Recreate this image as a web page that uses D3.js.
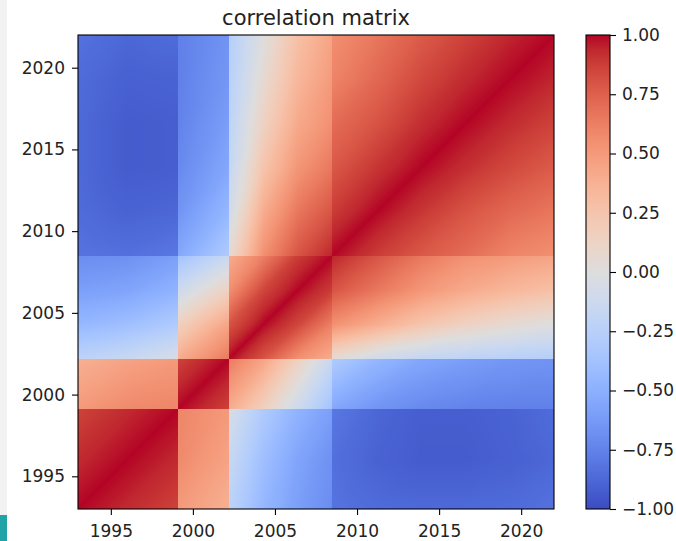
<!DOCTYPE html>
<html>
<head>
<meta charset="utf-8">
<script src="https://cdn.jsdelivr.net/npm/d3@7"></script>
<style>
  html, body { margin: 0; padding: 0; background: #ffffff; }
  svg { display: block; font-family: "DejaVu Sans", sans-serif; }
</style>
</head>
<body>
<svg id="chart" width="676" height="541"></svg>
<script>
// ---- data -------------------------------------------------------------
const chartTitle = "correlation matrix";
const yearExtent = [1993, 2022];
const regimeBreaks = [1999.1, 2002.2, 2008.5];

// sample years inside each regime (regime edges repeated on both sides)
const regimeNodes = [
  [1993, 1996, 1999.1],
  [1999.1, 2002.2],
  [2002.2, 2004.3, 2006.4, 2008.5],
  [2008.5, 2011.2, 2013.9, 2016.6, 2019.3, 2022]
];

// correlation at every pair of sample years (same order as regimeNodes, flattened)
const corr = [
  [ 1.00,  0.93,  0.86,  0.50,  0.38, -0.22, -0.45, -0.60, -0.70, -0.82, -0.86, -0.87, -0.87, -0.86, -0.83],
  [ 0.93,  1.00,  0.93,  0.58,  0.45, -0.15, -0.40, -0.57, -0.68, -0.84, -0.90, -0.93, -0.93, -0.91, -0.88],
  [ 0.86,  0.93,  1.00,  0.60,  0.50, -0.05, -0.30, -0.48, -0.60, -0.80, -0.88, -0.92, -0.92, -0.90, -0.86],
  [ 0.50,  0.58,  0.60,  1.00,  0.86,  0.40,  0.15, -0.12, -0.38, -0.55, -0.66, -0.72, -0.75, -0.76, -0.76],
  [ 0.38,  0.45,  0.50,  0.86,  1.00,  0.65,  0.45,  0.15, -0.15, -0.30, -0.45, -0.55, -0.60, -0.64, -0.66],
  [-0.22, -0.15, -0.05,  0.40,  0.65,  1.00,  0.80,  0.55,  0.40,  0.05, -0.10, -0.18, -0.22, -0.25, -0.27],
  [-0.45, -0.40, -0.30,  0.15,  0.45,  0.80,  1.00,  0.85,  0.62,  0.55,  0.40,  0.25,  0.14,  0.06,  0.00],
  [-0.60, -0.57, -0.48, -0.12,  0.15,  0.55,  0.85,  1.00,  0.88,  0.80,  0.66,  0.52,  0.42,  0.34,  0.28],
  [-0.70, -0.68, -0.60, -0.38, -0.15,  0.40,  0.62,  0.88,  1.00,  0.95,  0.80,  0.66,  0.55,  0.50,  0.45],
  [-0.82, -0.84, -0.80, -0.55, -0.30,  0.05,  0.55,  0.80,  0.95,  1.00,  0.88,  0.78,  0.70,  0.60,  0.55],
  [-0.86, -0.90, -0.88, -0.66, -0.45, -0.10,  0.40,  0.66,  0.80,  0.88,  1.00,  0.90,  0.80,  0.72,  0.66],
  [-0.87, -0.93, -0.92, -0.72, -0.55, -0.18,  0.25,  0.52,  0.66,  0.78,  0.90,  1.00,  0.92,  0.84,  0.77],
  [-0.87, -0.93, -0.92, -0.75, -0.60, -0.22,  0.14,  0.42,  0.55,  0.70,  0.80,  0.92,  1.00,  0.93,  0.86],
  [-0.86, -0.91, -0.90, -0.76, -0.64, -0.25,  0.06,  0.34,  0.50,  0.60,  0.72,  0.84,  0.93,  1.00,  0.94],
  [-0.83, -0.88, -0.86, -0.76, -0.66, -0.27,  0.00,  0.28,  0.45,  0.55,  0.66,  0.77,  0.86,  0.94,  1.00]
];

const yearTicks = [1995, 2000, 2005, 2010, 2015, 2020];
const colorTicks = [-1, -0.75, -0.5, -0.25, 0, 0.25, 0.5, 0.75, 1];

// coolwarm diverging palette, 33 evenly spaced stops from -1 to 1
const coolwarm = [
  "#3b4cc0", "#445acc", "#4d68d7", "#5775e1", "#6282ea", "#6c8ff1", "#779af7", "#82a5fb",
  "#8db0fe", "#98b9ff", "#a3c2fe", "#aec9fd", "#b8d0f9", "#c2d5f4", "#ccd9ee", "#d5dbe6",
  "#dddddd", "#e5d8d1", "#ecd3c5", "#f1ccb9", "#f5c4ad", "#f7bba0", "#f7b194", "#f6a687",
  "#f49a7b", "#f18d6f", "#ec7f63", "#e57058", "#de604d", "#d55042", "#cb3e38", "#c0282f",
  "#b40426"
];

// ---- layout -----------------------------------------------------------
const plot = { left: 78, top: 35, width: 476, height: 474 };
const cbar = { left: 586, top: 35, width: 24, height: 474 };
const tickFont = 17;

const svg = d3.select("#chart");

const x = d3.scaleLinear().domain(yearExtent).range([plot.left, plot.left + plot.width]);
const y = d3.scaleLinear().domain(yearExtent).range([plot.top + plot.height, plot.top]);
const color = d3.scaleLinear()
  .domain(coolwarm.map((_, i) => -1 + 2 * i / (coolwarm.length - 1)))
  .range(coolwarm)
  .interpolate(d3.interpolateRgb)
  .clamp(true);

// window chrome at the left edge
svg.append("rect").attr("x", 0).attr("y", 0).attr("width", 7).attr("height", 541).attr("fill", "#f2f2f2");
svg.append("rect").attr("x", 0).attr("y", 515).attr("width", 7).attr("height", 26).attr("fill", "#20a3a6");

// ---- heatmap ----------------------------------------------------------
const nodeOffset = [];
regimeNodes.reduce((acc, n) => { nodeOffset.push(acc); return acc + n.length; }, 0);

function locate(v) {
  const s = Math.min(d3.bisectRight(regimeBreaks, v), regimeNodes.length - 1);
  const nodes = regimeNodes[s];
  let k = d3.bisectRight(nodes, v) - 1;
  k = Math.max(0, Math.min(nodes.length - 2, k));
  const f = Math.max(0, Math.min(1, (v - nodes[k]) / (nodes[k + 1] - nodes[k])));
  return [nodeOffset[s] + k, f];
}

// linear shading over triangles split along the main diagonal direction
function corrAt(u, v) {
  const [i, s] = locate(u);
  const [j, t] = locate(v);
  const f00 = corr[i][j], f11 = corr[i + 1][j + 1];
  if (s >= t) return (1 - s) * f00 + (s - t) * corr[i + 1][j] + t * f11;
  return (1 - t) * f00 + (t - s) * corr[i][j + 1] + s * f11;
}

const lutSize = 1024;
const lut = d3.range(lutSize).map(k => d3.rgb(color(-1 + 2 * k / (lutSize - 1))));

const canvas = document.createElement("canvas");
canvas.width = plot.width;
canvas.height = plot.height;
const ctx = canvas.getContext("2d");
const img = ctx.createImageData(plot.width, plot.height);
for (let py = 0; py < plot.height; py++) {
  const v = y.invert(plot.top + py + 0.5);
  for (let px = 0; px < plot.width; px++) {
    const u = x.invert(plot.left + px + 0.5);
    const val = corrAt(u, v);
    const k = Math.round((Math.max(-1, Math.min(1, val)) + 1) / 2 * (lutSize - 1));
    const c = lut[k];
    const o = (py * plot.width + px) * 4;
    img.data[o] = c.r; img.data[o + 1] = c.g; img.data[o + 2] = c.b; img.data[o + 3] = 255;
  }
}
ctx.putImageData(img, 0, 0);

svg.append("image")
  .attr("x", plot.left).attr("y", plot.top)
  .attr("width", plot.width).attr("height", plot.height)
  .attr("preserveAspectRatio", "none")
  .attr("href", canvas.toDataURL());

svg.append("rect")
  .attr("x", plot.left).attr("y", plot.top)
  .attr("width", plot.width).attr("height", plot.height)
  .attr("fill", "none").attr("stroke", "#000").attr("stroke-width", 1.1);

// ---- axes -------------------------------------------------------------
function styleAxis(g) {
  g.select(".domain").remove();
  g.selectAll(".tick line").attr("stroke", "#000").attr("stroke-width", 1.1);
  g.selectAll(".tick text").attr("fill", "#222").style("font-size", tickFont + "px")
    .style("font-family", "'DejaVu Sans', sans-serif");
}

svg.append("g")
  .attr("transform", `translate(0,${plot.top + plot.height})`)
  .call(d3.axisBottom(x).tickValues(yearTicks).tickFormat(d3.format("d")).tickSize(6).tickPadding(10))
  .call(styleAxis);

svg.append("g")
  .attr("transform", `translate(${plot.left},0)`)
  .call(d3.axisLeft(y).tickValues(yearTicks).tickFormat(d3.format("d")).tickSize(6).tickPadding(7))
  .call(styleAxis);

// ---- title ------------------------------------------------------------
svg.append("text")
  .attr("x", plot.left + plot.width / 2)
  .attr("y", 25)
  .attr("text-anchor", "middle")
  .attr("fill", "#222")
  .style("font-size", "21px")
  .text(chartTitle);

// ---- colour bar -------------------------------------------------------
const cy = d3.scaleLinear().domain([-1, 1]).range([cbar.top + cbar.height, cbar.top]);
const grad = svg.append("defs").append("linearGradient")
  .attr("id", "cbarGrad").attr("x1", 0).attr("y1", 1).attr("x2", 0).attr("y2", 0);
grad.selectAll("stop").data(coolwarm).join("stop")
  .attr("offset", (d, i) => i / (coolwarm.length - 1))
  .attr("stop-color", d => d);

svg.append("rect")
  .attr("x", cbar.left).attr("y", cbar.top)
  .attr("width", cbar.width).attr("height", cbar.height)
  .attr("fill", "url(#cbarGrad)")
  .attr("stroke", "#000").attr("stroke-width", 1.1);

svg.append("g")
  .attr("transform", `translate(${cbar.left + cbar.width},0)`)
  .call(d3.axisRight(cy).tickValues(colorTicks).tickFormat(d3.format(".2f")).tickSize(6).tickPadding(6))
  .call(styleAxis);
</script>
</body>
</html>
